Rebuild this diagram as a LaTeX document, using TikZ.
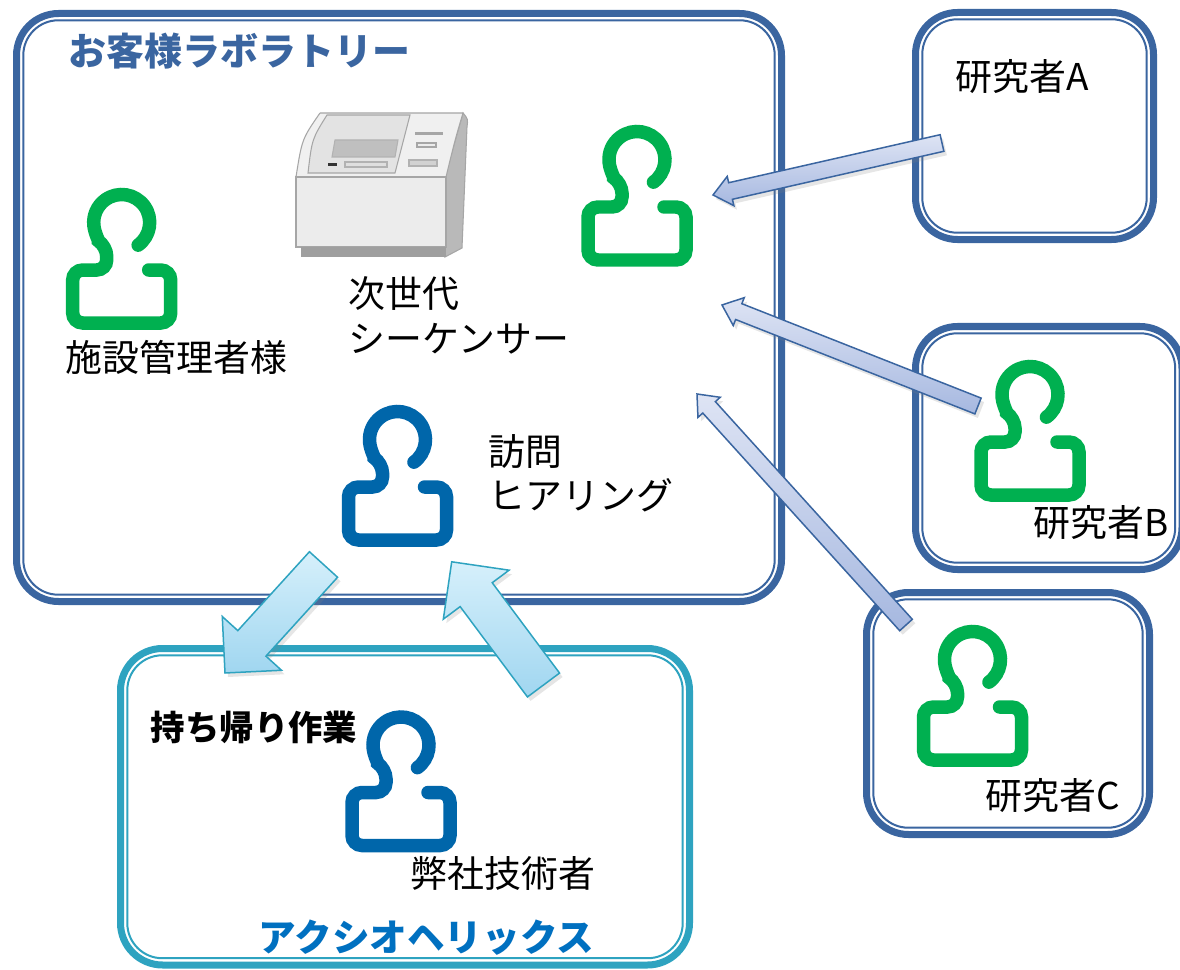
\documentclass[tikz,border=0pt]{standalone}
\usepackage{fontspec}
\setmainfont{Noto Sans CJK JP}
\usetikzlibrary{calc,shadows}

\definecolor{labblue}{RGB}{58,101,160}
\definecolor{axiocyan}{RGB}{46,163,192}
\definecolor{axioblue}{RGB}{0,112,192}
\definecolor{persongreen}{RGB}{0,176,80}
\definecolor{personblue}{RGB}{0,102,170}
\definecolor{lavtop}{RGB}{222,228,244}
\definecolor{lavbottom}{RGB}{166,184,224}
\definecolor{skytop}{RGB}{214,240,251}
\definecolor{skybottom}{RGB}{160,214,240}

\tikzset{
  roomframe/.style={draw=#1, line width=0.07cm, rounded corners=0.42cm, fill=white,
    outer sep=0pt, inner sep=0pt},
  innerframe/.style={draw=#1, line width=0.02cm, rounded corners=0.35cm},
  tag/.style={anchor=west, inner sep=0pt, align=left},
  person/.pic={
    \draw[pic actions, line width=0.135cm, line cap=round, rounded corners=0.1cm]
      (-54:0.28) arc (-54:237.6:0.28) -- (-0.15,-0.475) -- (-0.49,-0.475)
      -- (-0.49,-1.005) -- (0.49,-1.005) -- (0.49,-0.475) -- (0.27,-0.475);
  },
  thinarrow/.style={draw=labblue, line width=0.015cm, top color=lavtop,
    bottom color=lavbottom,
    drop shadow={opacity=0.2, shadow xshift=0.03cm, shadow yshift=-0.04cm}},
  widearrow/.style={draw=axiocyan, line width=0.015cm, top color=skytop,
    bottom color=skybottom,
    drop shadow={opacity=0.2, shadow xshift=0.03cm, shadow yshift=-0.04cm}}
}

% room with a thick outer line and a thin inner line
\newcommand\room[5]{%
  \node[roomframe=#2, minimum width=#4cm, minimum height=#5cm] (#1) at (#3) {};
  \draw[innerframe=#2] ([shift={(0.068,0.068)}]#1.south west)
    rectangle ([shift={(-0.068,-0.068)}]#1.north east);}

% block arrow: style, from, to, half shaft, half head, head length
\newcommand\blockarrow[6]{%
  \draw[#1] ($(#2)!#4!90:(#3)$)
    -- ($($(#3)!#6!(#2)$)!#4!90:(#3)$)
    -- ($($(#3)!#6!(#2)$)!#5!90:(#3)$)
    -- (#3)
    -- ($($(#3)!#6!(#2)$)!#5!-90:(#3)$)
    -- ($($(#3)!#6!(#2)$)!#4!-90:(#3)$)
    -- ($(#2)!#4!-90:(#3)$) -- cycle;}

\begin{document}
\begin{tikzpicture}[font=\fontsize{10.5pt}{12.6pt}\selectfont]
  \useasboundingbox (0,0) rectangle (11.8,9.69);

  % rooms
  \room{lab}{labblue}{3.99,6.615}{7.65}{5.88}
  \room{boxA}{labblue}{10.345,8.43}{2.38}{2.27}
  \room{boxB}{labblue}{10.4875,5.21}{2.665}{2.43}
  \room{boxC}{labblue}{10.08,2.555}{2.83}{2.42}
  \room{helix}{axiocyan}{4.05,1.6225}{5.69}{3.165}

  \node[tag, font=\fontsize{10.8pt}{13pt}\selectfont\bfseries, text=labblue] (labtitle)
    at (0.68,9.18) {お客様ラボラトリー};

  % sequencer
  \draw[gray!70, fill=gray!55, line width=0.3pt] (4.63,8.56) .. controls (4.68,8.50) .. (4.67,8.42)
    -- (4.62,7.21) -- (4.45,7.12) -- (4.45,7.92) -- cycle;
  \draw[gray!70, fill=gray!12, line width=0.3pt] (3.20,8.56) -- (4.63,8.56)
    .. controls (4.55,8.29) .. (4.46,7.92) -- (2.96,7.92) .. controls (3.02,8.30) .. (3.20,8.56);
  \draw[gray!70, fill=gray!22, line width=0.3pt] (3.27,8.54) -- (4.10,8.54) -- (3.95,7.96)
    -- (3.08,7.96) .. controls (3.12,8.30) .. cycle;
  \draw[gray!60, fill=gray!50, line width=0.3pt] (3.35,8.29) -- (3.98,8.29) -- (3.95,8.12) -- (3.32,8.12) -- cycle;
  \fill[black!80] (3.28,8.03) rectangle (3.37,8.06);
  \draw[gray!60, fill=gray!25, line width=0.3pt] (3.45,8.02) rectangle (3.87,8.07);
  \fill[gray!70] (4.15,8.34) rectangle (4.43,8.37);
  \draw[gray!70, fill=gray!15, line width=0.3pt] (4.17,8.22) rectangle (4.36,8.26);
  \draw[gray!60, fill=gray!35, line width=0.3pt] (4.09,8.03) rectangle (4.37,8.09);
  \draw[gray!70, fill=gray!15, line width=0.3pt] (2.96,7.22) rectangle (4.46,7.92);
  \fill[gray!75] (3.01,7.12) rectangle (4.46,7.22);

  % people
  \pic[draw=persongreen] (manager) at (1.217,7.465) {person};
  \pic[draw=persongreen] (guest) at (6.37,8.095) {person};
  \pic[draw=personblue] (visitor) at (3.975,5.295) {person};
  \pic[draw=persongreen] (resB) at (10.30,5.745) {person};
  \pic[draw=persongreen] (resC) at (9.725,3.095) {person};
  \pic[draw=personblue] (engineer) at (4.01,2.24) {person};

  % texts
  \node[tag] (managername) at (0.65,6.12) {施設管理者様};
  \node[tag] (seqname) at (3.48,6.535) {次世代\\シーケンサー};
  \node[tag] (visitname) at (4.88,4.955) {訪問\\ヒアリング};
  \node[tag] (resAname) at (9.55,8.92) {研究者A};
  \node[tag] (resBname) at (10.33,4.46) {研究者B};
  \node[tag] (resCname) at (9.85,1.73) {研究者C};
  \node[tag, font=\fontsize{9.8pt}{12pt}\selectfont\bfseries] (takeback) at (1.50,2.42) {持ち帰り作業};
  \node[tag] (engname) at (4.10,0.96) {弊社技術者};
  \node[tag, font=\fontsize{10.7pt}{13pt}\selectfont\bfseries, text=axioblue] (helixname)
    at (2.58,0.31) {アクシオヘリックス};

  % arrows
  \coordinate (tailA) at (9.42,8.26);  \coordinate (tipA) at (7.13,7.74);
  \coordinate (tailB) at (9.78,5.63);  \coordinate (tipB) at (7.22,6.64);
  \coordinate (tailC) at (9.06,3.44);  \coordinate (tipC) at (6.97,5.75);
  \coordinate (tailOut) at (3.235,4.045); \coordinate (tipOut) at (2.25,2.96);
  \coordinate (tailIn) at (5.435,2.84);   \coordinate (tipIn) at (4.517,4.072);

  \blockarrow{thinarrow}{tailA}{tipA}{0.085cm}{0.15cm}{0.18cm}
  \blockarrow{thinarrow}{tailB}{tipB}{0.085cm}{0.15cm}{0.18cm}
  \blockarrow{thinarrow}{tailC}{tipC}{0.085cm}{0.15cm}{0.18cm}
  \blockarrow{widearrow}{tailOut}{tipOut}{0.19cm}{0.40cm}{0.40cm}
  \blockarrow{widearrow}{tailIn}{tipIn}{0.20cm}{0.41cm}{0.41cm}
\end{tikzpicture}
\end{document}
